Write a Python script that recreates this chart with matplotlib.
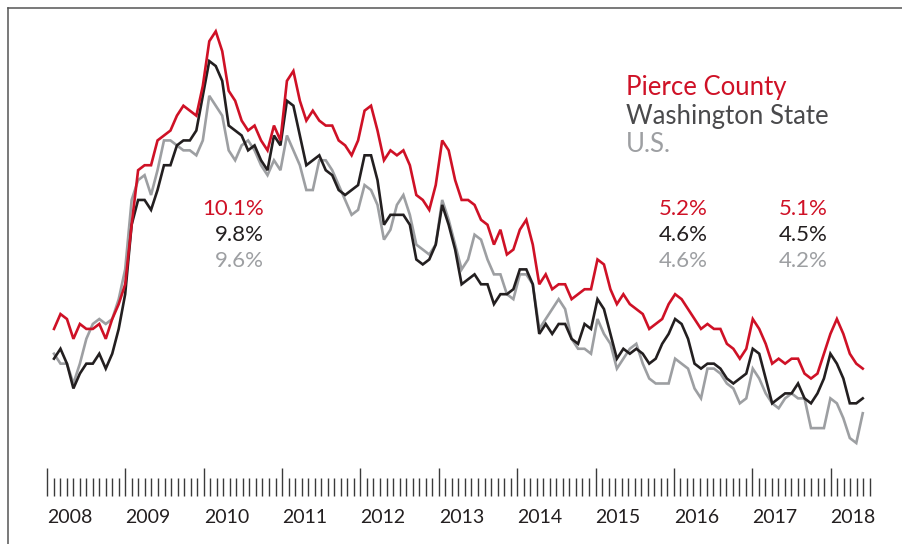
import matplotlib

matplotlib.use("Agg")
import matplotlib.pyplot as plt
import numpy as np
from matplotlib.lines import Line2D

# monthly, not seasonally adjusted unemployment rate (%), Jan 2008 - Jun 2018
pierce = [
    5.9, 6.2, 6.1, 5.7, 6.0, 5.9, 5.9, 6.0, 5.7, 6.1, 6.4, 6.8,
    8.0, 9.1, 9.2, 9.2, 9.7, 9.8, 9.9, 10.2, 10.4, 10.3, 10.2, 10.8,
    11.7, 11.9, 11.5, 10.7, 10.5, 10.1, 9.9, 10.0, 9.7, 9.5, 10.0, 9.7,
    10.9, 11.1, 10.5, 10.1, 10.3, 10.1, 10.0, 10.0, 9.7, 9.6, 9.4, 9.7,
    10.3, 10.4, 9.9, 9.3, 9.5, 9.4, 9.5, 9.2, 8.6, 8.5, 8.3, 8.8,
    9.7, 9.5, 8.9, 8.5, 8.5, 8.4, 8.1, 8.0, 7.6, 7.9, 7.4, 7.5,
    7.9, 8.1, 7.6, 6.8, 7.0, 6.7, 6.8, 6.8, 6.5, 6.6, 6.7, 6.7,
    7.3, 7.2, 6.7, 6.4, 6.6, 6.4, 6.3, 6.2, 5.9, 6.0, 6.1, 6.4,
    6.6, 6.5, 6.3, 6.1, 5.9, 6.0, 5.9, 5.9, 5.6, 5.5, 5.3, 5.5,
    6.1, 5.9, 5.6, 5.2, 5.3, 5.2, 5.3, 5.3, 5.0, 4.9, 5.0, 5.4,
    5.8, 6.1, 5.8, 5.4, 5.2, 5.1,
]
washington = [
    5.3, 5.5, 5.2, 4.7, 5.0, 5.2, 5.2, 5.4, 5.1, 5.4, 5.9, 6.6,
    8.0, 8.5, 8.5, 8.3, 8.7, 9.2, 9.2, 9.6, 9.7, 9.7, 9.9, 10.6,
    11.3, 11.2, 10.9, 10.0, 9.9, 9.8, 9.5, 9.6, 9.3, 9.1, 9.8, 9.6,
    10.5, 10.4, 9.8, 9.2, 9.3, 9.4, 9.1, 9.0, 8.7, 8.6, 8.7, 8.8,
    9.4, 9.4, 8.9, 8.0, 8.2, 8.2, 8.2, 8.0, 7.3, 7.2, 7.3, 7.6,
    8.4, 8.0, 7.5, 6.8, 6.9, 7.0, 6.8, 6.8, 6.4, 6.6, 6.6, 6.7,
    7.1, 7.1, 6.8, 5.8, 6.0, 5.8, 6.0, 6.0, 5.7, 5.6, 6.0, 5.9,
    6.5, 6.3, 5.8, 5.3, 5.5, 5.4, 5.5, 5.4, 5.2, 5.3, 5.6, 5.8,
    6.1, 6.0, 5.7, 5.2, 5.1, 5.2, 5.2, 5.1, 4.9, 4.8, 4.9, 5.0,
    5.5, 5.4, 4.9, 4.4, 4.5, 4.6, 4.6, 4.8, 4.5, 4.4, 4.6, 4.9,
    5.4, 5.2, 4.9, 4.4, 4.4, 4.5,
]
us = [
    5.4, 5.2, 5.2, 4.8, 5.2, 5.7, 6.0, 6.1, 6.0, 6.1, 6.5, 7.1,
    8.5, 8.9, 9.0, 8.6, 9.1, 9.7, 9.7, 9.6, 9.5, 9.5, 9.4, 9.7,
    10.6, 10.4, 10.2, 9.5, 9.3, 9.6, 9.7, 9.5, 9.2, 9.0, 9.3, 9.1,
    9.8, 9.5, 9.2, 8.7, 8.7, 9.3, 9.3, 9.1, 8.8, 8.5, 8.2, 8.3,
    8.8, 8.7, 8.4, 7.7, 7.9, 8.4, 8.6, 8.2, 7.6, 7.5, 7.4, 7.6,
    8.5, 8.1, 7.6, 7.1, 7.3, 7.8, 7.7, 7.3, 7.0, 7.0, 6.6, 6.5,
    7.0, 7.0, 6.8, 5.9, 6.1, 6.3, 6.5, 6.3, 5.7, 5.5, 5.5, 5.4,
    6.1, 5.8, 5.6, 5.1, 5.3, 5.5, 5.6, 5.2, 4.9, 4.8, 4.8, 4.8,
    5.3, 5.2, 5.1, 4.7, 4.5, 5.1, 5.1, 5.0, 4.8, 4.7, 4.4, 4.5,
    5.1, 4.9, 4.6, 4.4, 4.3, 4.5, 4.6, 4.5, 4.5, 3.9, 3.9, 3.9,
    4.5, 4.4, 4.1, 3.7, 3.6, 4.2,
]
years = ["2008", "2009", "2010", "2011", "2012", "2013", "2014", "2015", "2016", "2017", "2018"]
series_names = ["Pierce County", "Washington State", "U.S."]
annual_2010 = ["10.1%", "9.8%", "9.6%"]
annual_2016 = ["5.2%", "4.6%", "4.6%"]
annual_2017 = ["5.1%", "4.5%", "4.2%"]

RED = "#cf1126"
BLACK = "#231f20"
GRAY = "#9d9fa2"
FONT = ["Lato", "DejaVu Sans"]

W, H = 903, 544
# pixel anchors of the data area
X0_PX, DX_PX = 54.0, 6.47        # Jan 2008 and px per month
Y_REF_PX, Y_REF_VAL, PX_PER_PCT = 443.0, 3.6, 49.6
TICK0_PX, TICK_DX_PX = 47.0, 6.53


def fx(x):
    return x / W


def fy(y):
    return 1 - y / H


def main() -> int:
    plt.rcParams["font.family"] = FONT
    fig = plt.figure(figsize=(W / 100, H / 100), dpi=100)
    fig.patch.set_facecolor("white")

    ax = fig.add_axes([0, 0, 1, 1])
    ax.set_xlim(-X0_PX / DX_PX, (W - X0_PX) / DX_PX)
    ax.set_ylim(Y_REF_VAL - (H - Y_REF_PX) / PX_PER_PCT, Y_REF_VAL + Y_REF_PX / PX_PER_PCT)
    ax.axis("off")

    months = np.arange(len(pierce))
    ax.plot(months, us, color=GRAY, lw=1.9, solid_joinstyle="miter", zorder=2)
    ax.plot(months, washington, color=BLACK, lw=1.9, solid_joinstyle="miter", zorder=3)
    ax.plot(months, pierce, color=RED, lw=1.9, solid_joinstyle="miter", zorder=4)

    # month ruler with year labels
    n_months = len(pierce)
    left = TICK0_PX - 2 * TICK_DX_PX
    ruler = fig.add_axes([fx(left), fy(496), (n_months + 4) * TICK_DX_PX / W, 40 / H])
    ruler.set_xlim(-2, n_months + 2)
    ruler.patch.set_alpha(0)
    for side in ruler.spines.values():
        side.set_visible(False)
    ruler.set_yticks([])
    ruler.set_xticks(range(0, 12 * len(years), 12), labels=years)
    ruler.set_xticks(range(0, n_months + 1), minor=True)
    ruler.tick_params(which="major", direction="in", length=20, width=1.0, color="#3a3a3a",
                      pad=9.5, labelsize=14, labelcolor="#231f20")
    ruler.tick_params(which="minor", direction="in", length=13, width=1.0, color="#3a3a3a")
    for lab in ruler.get_xticklabels():
        lab.set_horizontalalignment("left")

    # legend as coloured text
    for name, color, base in zip(series_names, [RED, "#4a4a4c", GRAY], [95, 124, 152]):
        fig.text(fx(626), fy(base), name, color=color, fontsize=18.5, va="baseline", ha="left")

    # annual averages
    for texts, right in [(annual_2010, 264), (annual_2016, 708), (annual_2017, 828)]:
        for txt, color, base in zip(texts, [RED, BLACK, GRAY], [215, 241, 267]):
            fig.text(fx(right), fy(base), txt, color=color, fontsize=16, va="baseline", ha="right")

    # frame: left and top edges
    fig.add_artist(Line2D([fx(7.5), fx(7.5)], [0, fy(7.5)], color="#555555", lw=1.1))
    fig.add_artist(Line2D([fx(7.5), 1], [fy(7.5), fy(7.5)], color="#555555", lw=1.1))

    fig.savefig("out.png", dpi=100, facecolor="white")
    plt.close(fig)
    return 0


if __name__ == "__main__":
    raise SystemExit(main())
